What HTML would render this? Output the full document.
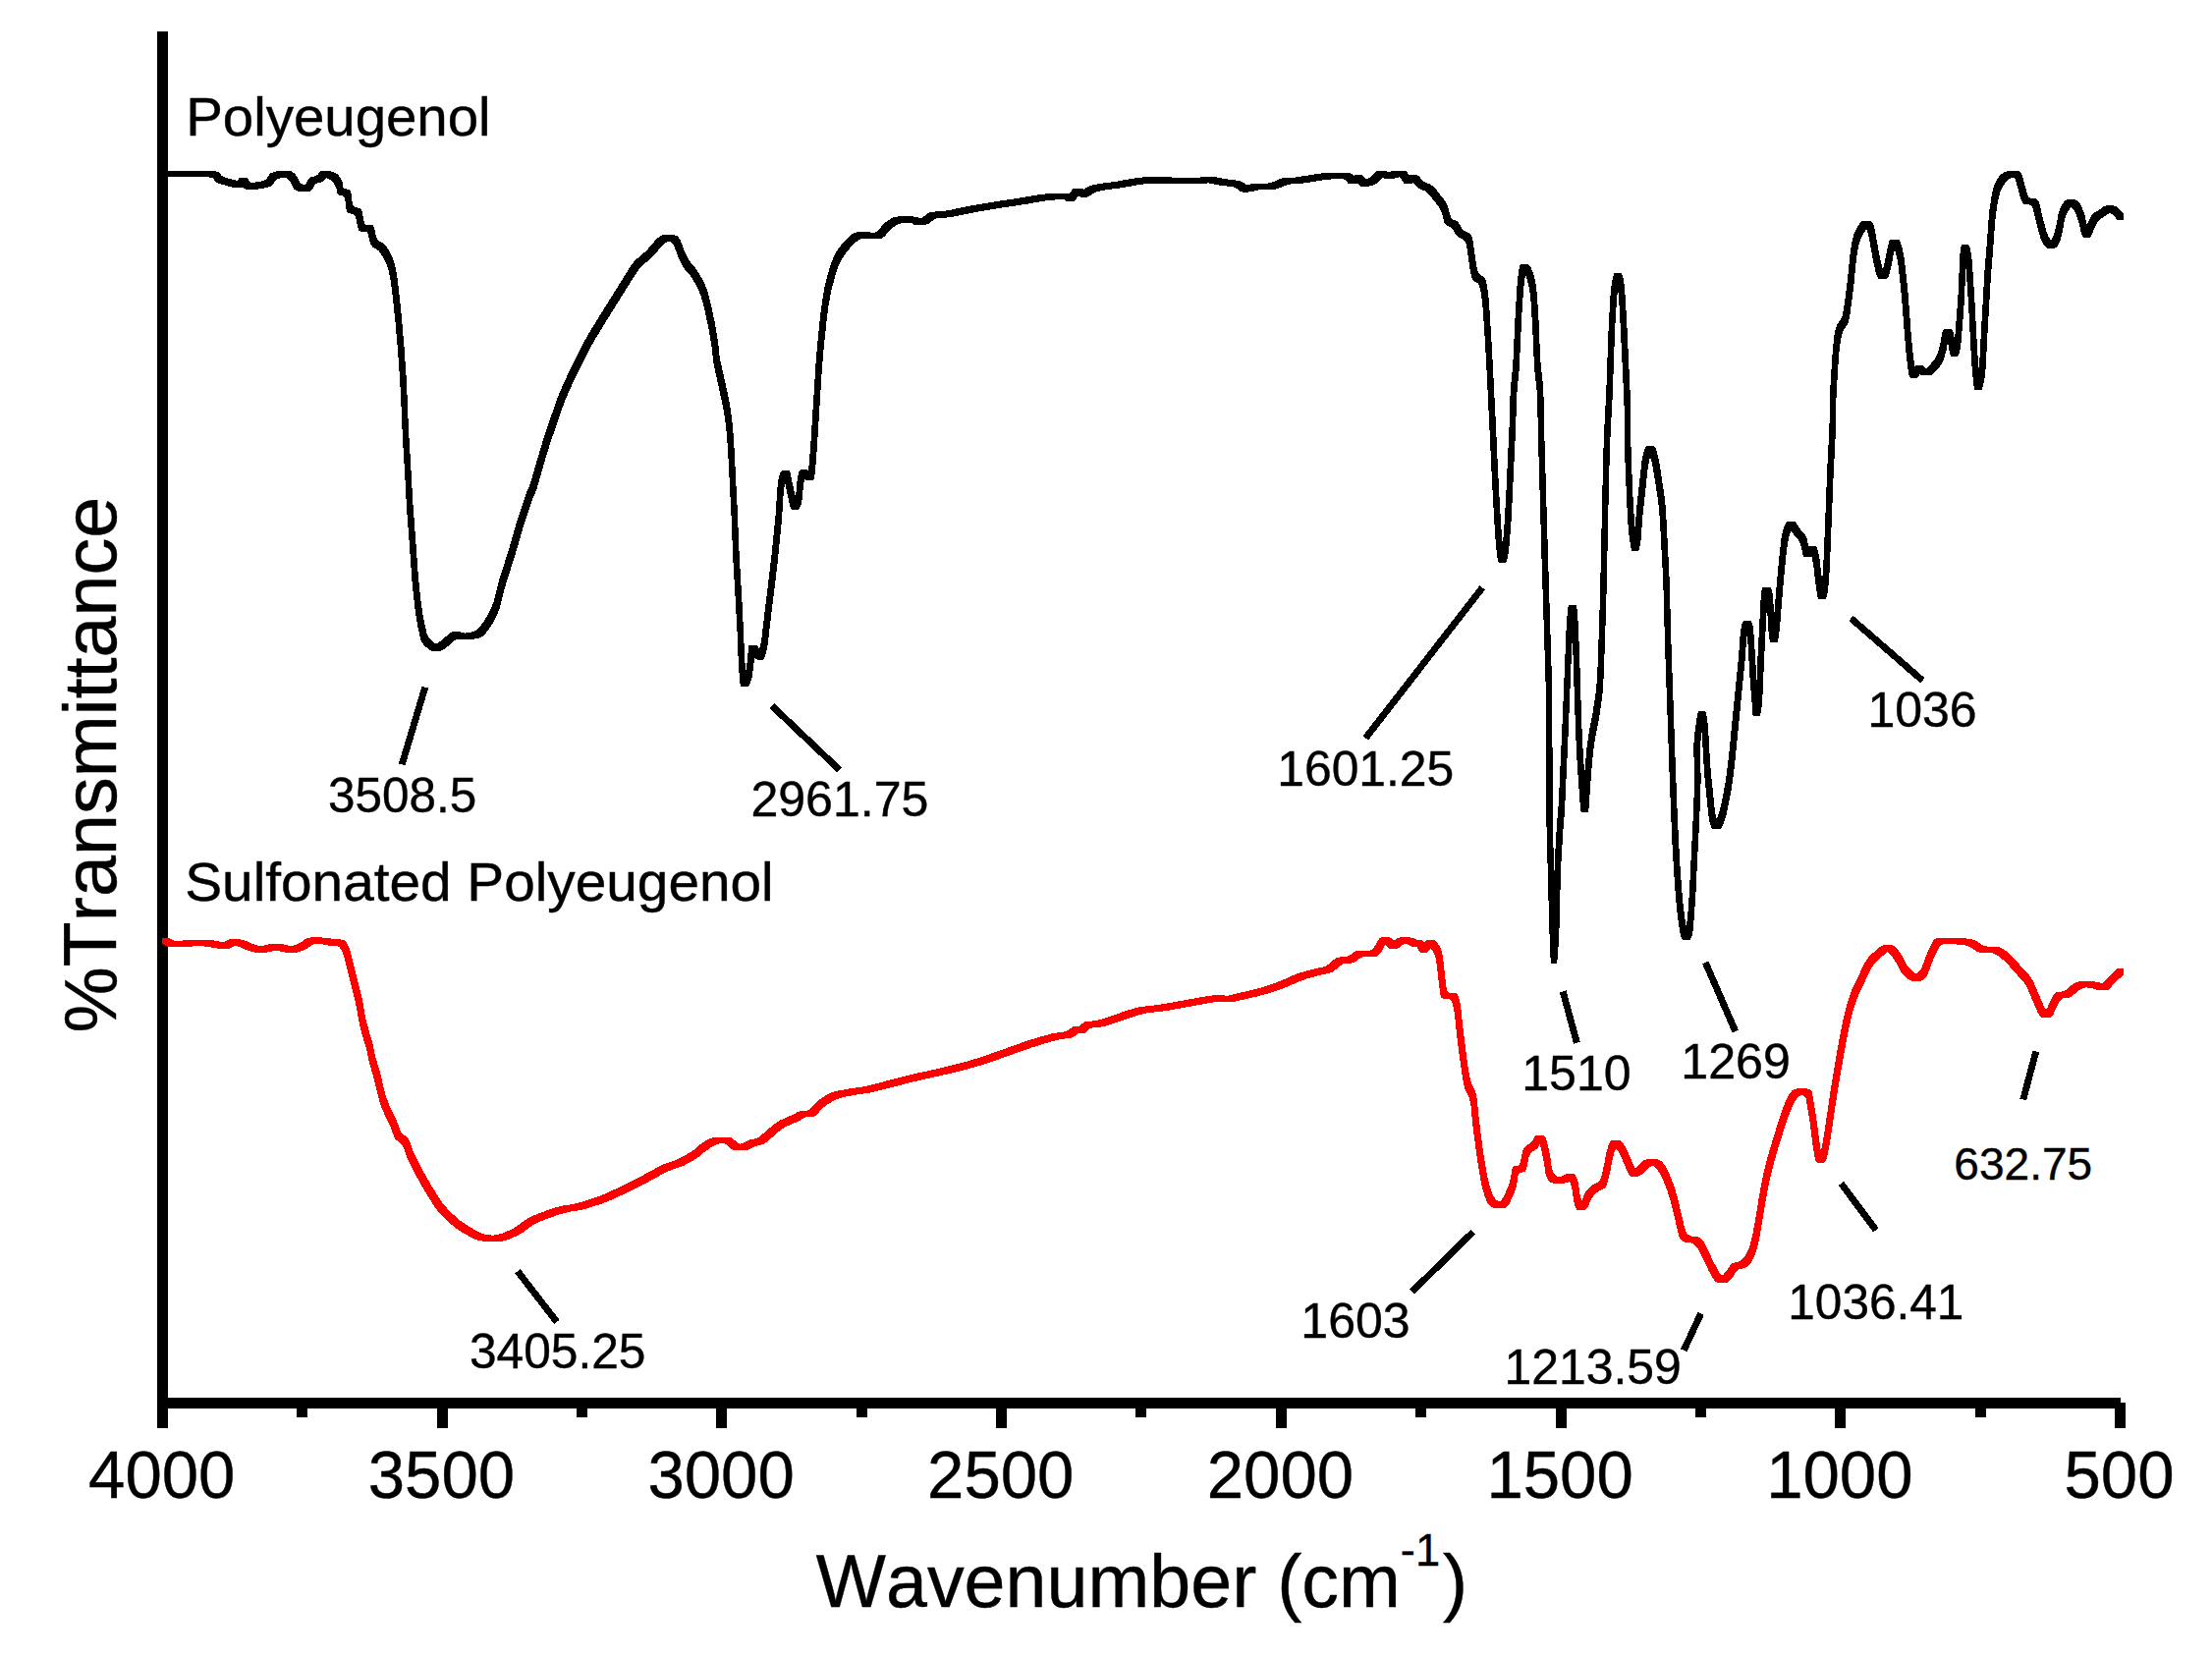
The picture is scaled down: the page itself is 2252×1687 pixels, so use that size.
<!DOCTYPE html>
<html><head><meta charset="utf-8"><title>FTIR spectra</title>
<style>
html,body{margin:0;padding:0;background:#fff;}
body{width:2252px;height:1687px;overflow:hidden;}
svg{display:block;}
text{font-family:"Liberation Sans",Arial,Helvetica,sans-serif;fill:#000;font-kerning:none;stroke:#000;stroke-width:0.4px;}
</style></head><body>
<svg width="2252" height="1687" viewBox="0 0 2252 1687">
<rect width="2252" height="1687" fill="#fff"/>

<path d="M1344.6 176.5L1340.5 177.1L1319.0 180.5L1308.8 181.1L1305.4 181.5L1302.1 182.6L1295.5 185.4L1291.9 186.4L1287.9 186.9L1279.4 186.9L1275.6 187.0L1272.5 187.6L1269.4 188.5L1269.0 188.4L1265.3 185.5L1263.0 184.3L1260.0 183.7L1249.4 182.4L1236.6 180.1L1233.1 179.7L1224.4 179.7L1221.4 180.7L1218.5 181.0L1213.7 181.2L1203.2 181.0L1200.9 180.9L1199.1 180.7L1184.0 180.2L1170.1 180.2L1162.8 180.5L1155.8 181.4L1135.8 184.8L1119.4 187.0L1113.5 188.2L1111.0 188.9L1108.5 189.8L1106.3 190.9L1103.4 192.9L1101.6 191.8L1100.0 191.7L1093.6 191.7L1091.9 192.9L1088.8 196.8L1087.7 196.5L1077.0 196.6L1071.3 196.9L1059.6 197.9L1054.9 198.6L1040.6 201.2L1013.5 205.2L999.7 207.5L986.4 209.8L967.2 213.8L961.9 214.8L957.3 215.3L950.0 215.6L947.0 216.2L944.4 217.3L940.6 220.4L938.9 221.5L936.8 222.3L934.9 221.2L932.9 220.8L929.7 220.5L925.7 220.2L915.3 220.3L911.6 220.8L908.6 221.8L905.9 223.3L900.8 226.9L898.4 229.3L896.2 232.1L893.9 234.7L891.2 236.4L889.4 236.8L887.2 236.6L884.0 236.4L872.9 236.4L870.6 236.7L868.1 237.8L865.2 240.1L862.0 243.2L858.8 246.6L856.0 250.0L853.6 253.2L851.6 256.3L849.7 259.6L847.9 263.7L846.0 268.5L844.2 274.0L841.1 285.4L839.8 290.6L838.8 295.9L837.0 307.1L835.3 320.1L833.0 341.5L831.6 356.4L830.4 372.0L825.7 446.4L823.7 472.7L823.0 478.5L822.9 478.9L821.5 478.2L815.2 478.2L814.2 479.1L813.3 480.8L812.6 483.3L812.0 486.4L811.4 490.6L810.5 501.2L809.8 505.4L806.9 492.5L804.9 482.5L803.9 479.6L802.8 478.8L796.5 478.8L795.4 479.6L794.4 481.4L793.6 483.7L792.9 486.1L792.3 489.0L791.4 497.2L789.6 524.1L787.6 543.9L785.5 564.8L782.4 591.5L777.4 632.6L776.0 644.9L775.4 649.9L774.6 654.4L773.7 658.2L773.1 660.3L770.5 657.3L769.5 656.5L763.2 656.5L762.4 657.1L761.9 659.2L761.1 670.6L759.9 679.3L759.2 683.6L758.4 673.4L758.0 667.5L757.2 646.2L755.7 616.3L752.4 559.4L751.0 524.1L747.9 462.4L746.9 445.7L745.7 431.7L745.0 425.1L744.1 418.5L743.0 411.6L741.7 404.8L737.2 384.2L734.0 370.1L732.8 364.2L732.1 359.7L731.6 352.8L731.0 348.4L729.0 335.4L727.7 328.1L724.7 314.1L723.1 306.9L721.4 300.1L719.4 294.0L717.2 288.6L714.8 283.7L710.1 275.9L708.2 273.2L704.9 269.6L703.4 267.8L700.6 263.5L697.9 258.2L693.0 245.2L691.1 241.9L689.2 240.2L687.1 239.4L685.0 239.1L676.8 239.2L675.1 239.2L673.6 239.5L672.0 240.4L670.0 241.9L667.2 244.7L660.8 252.1L657.8 255.5L654.8 258.1L649.3 262.7L646.9 265.0L644.9 267.1L641.9 271.3L637.3 278.4L627.6 294.1L615.0 314.2L602.3 334.7L598.2 341.5L594.4 348.4L590.7 355.2L587.3 362.0L577.5 382.3L571.4 395.9L568.6 402.7L566.0 409.4L563.6 416.3L554.6 442.9L550.1 457.0L540.1 491.9L538.5 496.1L536.4 500.5L535.1 504.1L530.8 516.7L526.2 531.1L518.4 558.4L508.3 589.9L505.9 599.1L503.4 609.4L502.5 612.6L500.2 618.4L497.8 623.6L495.1 628.5L492.2 633.1L489.0 637.5L487.3 639.5L485.5 641.1L483.6 642.3L481.7 643.1L479.6 643.7L477.4 644.1L473.0 644.6L471.0 644.2L468.6 643.3L461.1 643.2L459.8 643.7L458.5 644.4L455.7 646.6L449.6 651.9L447.5 653.5L444.1 655.5L443.1 655.0L440.4 652.8L437.8 650.3L435.8 648.0L434.7 646.0L434.2 644.2L433.4 639.9L432.0 633.4L430.6 626.2L429.7 620.3L428.6 612.6L427.2 600.0L425.8 585.6L423.8 558.4L420.3 510.8L418.4 476.9L416.0 437.5L414.4 399.5L413.5 382.3L411.6 354.1L409.0 324.0L407.1 305.4L405.8 293.6L404.5 283.3L403.8 278.7L403.0 274.5L402.2 270.6L401.3 267.2L400.2 264.0L398.9 261.0L397.5 257.8L395.8 254.8L394.0 252.0L392.1 249.5L390.1 247.8L385.8 245.2L384.0 243.2L382.8 240.1L381.2 232.4L379.9 229.7L378.1 228.8L372.5 228.8L371.8 228.3L370.6 225.3L368.9 216.6L367.8 213.3L365.9 211.8L361.3 210.9L359.5 209.3L358.6 206.1L357.7 197.5L356.8 194.3L355.3 192.9L353.4 192.5L351.5 192.3L350.0 191.7L349.4 190.3L349.2 186.7L348.6 184.8L346.5 180.8L345.0 178.9L343.2 177.2L341.1 176.0L338.5 174.9L335.9 174.2L333.8 174.0L327.5 174.0L325.8 174.8L324.6 176.1L323.4 177.7L322.1 178.8L320.4 179.4L316.9 180.0L315.2 180.8L313.9 182.4L311.5 186.8L309.9 188.2L309.5 188.2L308.8 188.1L306.5 187.0L304.9 185.2L302.5 180.1L301.1 178.0L299.7 176.6L298.2 175.4L296.5 174.5L294.3 174.0L285.2 174.0L281.9 174.4L278.5 175.2L275.9 176.2L274.1 177.6L271.9 181.3L270.5 182.8L268.4 183.7L266.0 184.5L263.5 185.0L256.3 186.2L254.6 185.1L252.1 181.6L251.0 180.8L244.7 180.8L243.6 181.2L241.7 184.0L233.3 181.8L229.6 180.6L226.5 179.4L224.9 178.1L224.3 176.5L222.8 175.1L218.3 174.0L208.8 173.7L189.4 173.7L167.8 174.0L167.8 180.3L203.0 180.0L212.0 180.3L216.5 181.4L218.0 182.8L218.6 184.4L220.2 185.8L223.3 186.9L237.7 191.0L239.2 191.3L245.5 191.3L246.8 191.2L247.7 190.6L248.3 191.4L250.0 192.6L252.4 192.8L258.7 192.8L261.5 192.7L269.8 191.3L272.3 190.8L274.7 190.0L276.8 189.1L278.2 187.6L280.4 183.9L282.1 182.5L284.8 181.5L288.2 180.7L289.3 180.6L290.2 180.8L291.9 181.7L293.4 182.9L294.9 184.3L296.2 186.4L298.6 191.5L300.2 193.3L302.5 194.4L305.1 194.9L307.6 195.0L313.9 195.0L316.1 194.5L317.8 193.1L320.2 188.7L321.5 187.1L323.2 186.3L326.7 185.7L328.3 185.2L329.7 184.0L330.9 182.4L332.1 181.1L332.2 181.2L334.8 182.3L337.0 183.6L338.7 185.2L340.2 187.1L342.4 191.2L342.9 193.0L343.1 196.6L343.8 198.0L345.2 198.6L347.1 198.8L349.0 199.2L350.6 200.7L351.4 203.8L352.3 212.4L353.2 215.7L355.0 217.2L359.6 218.1L361.5 219.7L362.6 222.9L364.3 231.6L365.5 234.7L367.3 235.7L373.0 235.7L373.7 236.0L374.9 238.7L376.5 246.4L377.8 249.6L379.5 251.5L383.8 254.1L385.9 255.8L387.7 258.3L389.5 261.1L391.2 264.1L392.7 267.2L393.9 270.3L395.0 273.5L395.9 276.9L396.8 280.8L397.5 285.0L398.2 289.6L399.5 299.8L400.8 311.7L402.7 330.3L405.3 360.4L407.2 388.6L408.2 405.8L409.8 443.8L412.2 483.1L414.0 517.1L417.6 564.6L419.5 591.9L420.9 606.2L422.4 618.9L423.4 626.6L424.4 632.5L425.7 639.7L427.2 646.1L427.9 650.5L428.4 652.3L429.6 654.2L431.5 656.6L434.1 659.1L436.8 661.3L439.4 662.6L441.5 662.8L447.8 662.8L449.8 662.1L453.8 659.8L455.9 658.2L461.9 652.9L465.1 650.6L466.5 650.9L468.9 650.9L478.0 650.9L481.0 650.8L483.6 650.4L485.9 650.0L488.0 649.4L489.9 648.6L491.8 647.4L493.6 645.8L495.3 643.8L498.5 639.4L501.4 634.8L504.0 629.9L506.5 624.7L508.8 618.9L509.7 615.7L512.1 605.4L514.6 596.2L524.6 564.6L532.5 537.4L537.1 523.0L541.4 510.3L542.7 506.8L544.8 502.4L546.4 498.1L556.4 463.2L560.9 449.2L572.3 415.7L574.9 408.9L577.7 402.2L583.8 388.6L590.3 375.1L597.0 361.5L600.6 354.6L604.5 347.8L616.9 327.4L633.9 300.3L643.6 284.7L649.7 275.3L651.2 273.4L653.1 271.2L655.6 269.0L661.1 264.4L664.0 261.8L667.1 258.4L673.5 251.0L676.2 248.2L678.3 246.7L679.9 245.8L680.8 245.7L682.9 246.5L684.9 248.2L686.7 251.5L691.6 264.5L694.4 269.8L697.1 274.0L698.6 275.9L701.9 279.5L703.9 282.1L708.5 290.0L710.9 294.9L713.1 300.2L715.1 306.4L716.8 313.2L718.4 320.3L721.4 334.4L722.7 341.7L724.8 354.6L725.3 359.1L725.8 366.0L726.5 370.4L727.7 376.4L730.9 390.5L735.4 411.1L736.7 417.9L737.9 424.8L738.7 431.4L739.4 438.0L740.6 451.9L741.6 468.7L744.8 530.4L746.1 565.6L749.4 622.6L751.0 652.5L751.7 673.8L752.1 679.6L753.0 691.2L753.5 695.8L754.2 698.6L755.2 699.3L761.5 699.3L762.6 698.2L763.7 695.9L764.6 693.2L765.5 689.9L766.2 685.6L767.4 676.9L767.9 668.6L769.5 671.3L770.6 671.5L776.9 671.5L777.9 670.2L779.0 667.8L780.0 664.5L780.9 660.6L781.7 656.2L782.3 651.2L783.6 638.9L788.7 597.8L791.8 571.0L793.9 550.2L795.9 530.4L797.6 503.5L798.6 495.3L799.3 492.0L800.6 498.8L803.7 512.5L804.7 516.3L805.8 518.4L806.8 518.6L813.1 518.6L814.2 517.2L815.3 514.7L816.1 511.6L816.8 507.5L817.7 496.9L818.2 492.6L819.3 488.0L820.6 489.1L826.9 489.1L828.4 488.5L829.3 484.8L830.0 478.9L831.6 459.1L836.7 378.3L837.9 362.7L839.3 347.8L841.6 326.4L843.2 313.3L845.1 302.2L846.1 296.9L847.4 291.6L850.5 280.3L852.3 274.8L854.1 269.9L856.0 265.9L857.9 262.6L859.9 259.5L862.2 256.3L865.1 252.9L868.3 249.5L871.5 246.4L874.4 244.2L876.9 243.0L878.5 242.8L880.9 242.9L884.5 243.3L888.1 243.4L894.4 243.4L897.5 242.8L900.2 241.0L902.5 238.4L904.7 235.6L907.0 233.2L912.2 229.6L914.9 228.1L917.9 227.1L921.1 226.6L926.6 227.1L928.6 227.5L930.8 228.8L932.1 229.2L939.9 229.2L941.6 229.0L943.3 228.5L945.1 227.8L946.9 226.7L950.7 223.6L953.2 222.5L956.3 221.9L963.6 221.6L968.1 221.1L973.5 220.1L992.6 216.2L999.2 215.0L1019.8 211.6L1047.0 207.5L1061.2 204.9L1066.0 204.2L1071.6 203.7L1082.1 203.0L1083.8 203.3L1085.8 204.8L1093.2 204.8L1094.8 203.4L1097.8 199.7L1098.7 200.3L1100.4 200.7L1106.8 200.7L1108.6 200.0L1112.6 197.2L1114.9 196.1L1117.3 195.2L1119.8 194.6L1125.8 193.3L1142.1 191.2L1162.1 187.7L1169.2 186.8L1177.7 186.5L1192.8 187.0L1194.6 187.2L1196.8 187.3L1220.0 187.5L1224.9 187.3L1227.7 187.0L1229.8 186.3L1243.0 188.8L1253.7 190.0L1256.6 190.7L1259.0 191.8L1262.7 194.7L1264.8 195.5L1271.1 195.5L1273.5 195.4L1278.8 193.9L1282.0 193.3L1294.2 193.2L1298.2 192.8L1301.8 191.7L1308.4 188.9L1311.8 187.8L1315.1 187.4L1325.4 186.8L1346.8 183.4L1350.9 182.8L1355.2 182.5L1360.1 182.2L1364.1 182.1L1367.9 182.5L1370.2 183.5L1371.4 185.1L1372.2 186.5L1373.3 187.3L1379.7 187.3L1381.3 187.0L1382.2 186.5L1384.0 188.7L1385.6 189.6L1394.1 189.5L1396.6 188.9L1399.2 188.0L1401.5 186.8L1403.3 185.3L1406.4 181.7L1407.4 181.1L1409.3 181.6L1411.4 182.0L1417.8 182.0L1419.3 181.8L1421.7 180.9L1424.3 180.4L1424.9 180.6L1426.5 182.0L1429.1 186.2L1430.4 187.3L1436.8 187.3L1438.0 187.0L1438.7 186.3L1441.9 189.6L1443.9 191.5L1446.0 192.6L1450.1 194.1L1452.1 195.5L1454.2 197.4L1456.3 199.9L1463.9 209.5L1465.6 211.9L1467.0 214.6L1468.2 217.9L1470.0 225.2L1471.1 228.1L1472.7 229.6L1474.5 230.4L1476.3 231.1L1477.9 232.2L1479.3 234.0L1481.8 238.4L1483.3 240.3L1485.3 241.7L1489.8 244.0L1491.5 245.8L1492.6 248.2L1493.2 251.0L1494.9 262.5L1496.3 272.8L1496.9 276.9L1498.1 281.9L1498.7 283.5L1499.6 285.1L1501.0 286.4L1502.8 287.2L1504.5 288.3L1505.9 290.5L1507.0 294.1L1507.8 298.5L1508.5 303.7L1509.8 316.2L1511.9 347.4L1513.7 380.0L1519.1 491.7L1521.8 539.5L1522.8 553.3L1523.8 562.6L1524.7 569.0L1525.1 571.1L1525.6 572.4L1526.1 572.9L1532.5 572.9L1533.1 572.4L1533.8 571.1L1534.5 569.0L1535.2 566.1L1535.7 562.6L1536.8 553.3L1537.9 539.5L1538.5 530.8L1540.0 502.0L1543.4 430.3L1543.8 409.7L1544.2 403.1L1544.7 396.4L1546.1 382.7L1546.8 374.8L1548.7 334.0L1549.7 315.0L1550.8 298.6L1551.8 287.2L1552.9 280.0L1553.9 282.4L1555.1 286.0L1556.2 290.3L1557.2 295.5L1558.0 301.4L1558.7 308.5L1560.2 334.0L1561.6 365.2L1562.1 374.8L1562.8 382.4L1564.4 395.5L1564.9 403.1L1565.3 411.9L1565.8 443.8L1566.3 457.9L1569.6 571.5L1573.6 696.4L1573.9 715.4L1574.1 742.4L1574.3 808.0L1574.4 834.6L1574.7 852.8L1575.8 888.9L1577.2 943.2L1578.0 962.8L1578.8 981.4L1585.1 981.4L1585.2 981.2L1586.5 964.5L1587.6 943.2L1588.6 902.0L1589.0 888.9L1589.5 877.4L1591.2 848.2L1592.6 831.0L1593.5 815.2L1597.1 737.2L1599.2 682.9L1600.8 649.1L1601.6 669.4L1603.0 715.4L1604.9 764.4L1606.0 782.0L1608.7 819.5L1609.2 824.1L1609.7 826.4L1610.2 826.8L1616.5 826.8L1617.0 825.5L1617.5 822.8L1617.9 818.0L1620.4 782.9L1621.6 769.8L1622.2 764.5L1624.2 750.8L1627.3 734.9L1628.4 729.0L1630.2 716.7L1631.1 709.8L1631.9 701.9L1632.4 693.2L1632.9 683.8L1634.7 631.9L1635.7 598.6L1638.1 487.2L1639.2 452.0L1639.8 438.0L1641.8 401.9L1643.7 347.5L1644.7 325.0L1645.9 306.8L1646.5 300.2L1647.2 294.8L1647.6 298.6L1648.2 305.8L1649.3 324.3L1653.3 405.6L1653.6 415.4L1653.8 422.9L1653.7 441.8L1653.8 452.0L1654.8 479.3L1656.5 516.9L1657.5 534.4L1658.1 541.6L1658.9 548.2L1659.8 554.0L1660.6 558.4L1661.4 560.6L1667.8 560.6L1668.5 560.4L1669.2 558.1L1669.8 554.4L1670.5 549.9L1671.0 544.1L1672.6 522.6L1675.4 498.2L1677.6 476.8L1678.6 471.0L1679.7 466.7L1680.1 465.3L1681.8 471.0L1682.8 476.2L1684.9 489.0L1687.6 507.0L1688.4 513.1L1689.1 519.9L1689.8 527.8L1693.0 587.6L1693.8 609.5L1694.9 653.3L1699.4 782.6L1701.2 829.3L1702.6 861.8L1704.4 891.0L1705.3 904.3L1706.2 916.1L1707.2 926.4L1708.3 935.3L1709.3 942.7L1710.2 948.6L1711.1 952.8L1711.9 955.3L1712.7 956.5L1713.5 956.9L1719.9 956.9L1720.7 956.5L1721.6 955.3L1722.5 952.8L1723.4 948.6L1724.1 942.4L1725.4 925.4L1726.6 906.5L1728.1 875.4L1730.2 834.6L1731.4 803.3L1731.6 793.9L1731.4 779.3L1730.8 764.3L1731.2 757.5L1731.9 750.9L1732.6 745.7L1733.1 753.5L1734.8 783.4L1735.4 791.0L1737.4 810.5L1738.7 823.9L1739.4 830.0L1740.1 834.9L1741.0 838.8L1742.0 841.8L1743.1 843.8L1744.2 844.4L1750.6 844.4L1751.8 843.8L1753.2 841.8L1754.6 838.8L1756.0 834.9L1757.4 830.0L1758.8 823.9L1760.2 817.2L1762.6 804.3L1763.5 798.0L1765.5 783.4L1766.5 774.1L1775.7 681.2L1776.4 674.8L1777.9 653.1L1778.7 647.0L1779.5 655.9L1781.4 688.4L1784.5 727.9L1784.9 729.0L1791.2 729.0L1791.8 728.2L1792.6 725.6L1793.3 721.4L1794.0 715.4L1794.5 707.2L1795.9 674.8L1798.9 616.4L1800.4 642.1L1801.5 650.9L1802.1 653.4L1802.6 654.4L1809.0 654.4L1809.6 653.5L1810.3 651.1L1811.0 647.2L1811.7 642.1L1812.3 635.4L1814.4 609.5L1815.7 594.1L1817.7 572.9L1819.0 560.5L1819.8 555.2L1821.3 547.2L1822.1 544.1L1823.1 541.6L1823.7 540.4L1827.0 545.8L1831.3 550.3L1832.5 552.5L1833.6 556.2L1835.5 565.0L1836.5 567.4L1842.9 567.4L1844.2 567.2L1844.4 566.8L1845.5 571.5L1846.3 576.2L1847.6 587.9L1849.6 603.1L1850.2 607.1L1850.9 609.5L1851.8 610.2L1858.1 610.2L1858.9 609.4L1859.8 607.4L1860.6 604.1L1861.2 599.9L1861.7 594.4L1862.8 579.6L1863.7 558.1L1866.6 484.6L1868.7 443.8L1868.9 434.4L1869.1 416.5L1869.7 400.0L1871.5 371.2L1872.5 358.5L1873.7 348.5L1874.3 344.6L1875.1 341.2L1876.1 338.0L1877.4 335.4L1880.5 331.1L1881.9 328.0L1882.8 323.8L1883.7 318.7L1886.3 298.4L1887.6 288.0L1889.4 268.9L1890.8 258.0L1891.6 253.4L1892.5 249.3L1893.6 245.6L1894.9 242.1L1896.4 239.1L1898.0 236.4L1900.1 233.3L1901.2 235.7L1902.2 239.1L1907.2 266.5L1909.8 278.0L1910.8 281.0L1911.8 283.0L1912.9 283.9L1920.3 283.9L1921.5 283.2L1922.6 281.8L1923.4 279.8L1924.2 276.9L1926.2 267.4L1927.4 260.9L1929.0 254.4L1929.9 257.5L1930.9 261.4L1931.8 265.5L1932.5 270.1L1933.7 280.4L1935.3 295.4L1936.2 305.5L1939.3 345.1L1940.7 361.1L1941.8 370.5L1942.9 378.8L1943.5 382.1L1944.2 384.2L1945.1 384.8L1951.4 384.8L1952.4 384.1L1954.6 381.2L1955.4 381.8L1956.7 382.2L1957.9 382.4L1964.2 382.4L1965.4 382.3L1966.8 381.8L1968.3 380.7L1969.9 379.1L1973.1 375.5L1975.7 372.2L1976.9 370.3L1978.1 368.0L1979.1 365.3L1980.9 358.8L1981.8 355.5L1983.0 348.4L1984.2 355.5L1985.5 360.7L1986.1 362.5L1986.8 363.0L1993.1 363.0L1993.8 362.1L1994.6 359.9L1995.4 356.8L1996.1 353.0L1996.6 348.4L1997.1 342.9L1999.1 317.1L2000.1 303.0L2000.8 281.7L2001.3 271.1L2002.1 280.8L2003.9 307.6L2007.0 366.3L2007.9 378.0L2009.1 389.5L2009.7 394.1L2010.4 396.8L2016.8 396.8L2017.6 396.6L2018.5 394.5L2019.3 391.3L2020.6 385.0L2021.4 377.8L2022.1 367.2L2023.1 345.5L2026.8 283.0L2029.2 253.1L2031.0 228.1L2031.8 220.7L2033.5 208.1L2034.5 202.8L2035.6 198.2L2036.8 194.4L2038.1 191.5L2039.5 189.0L2041.0 186.8L2042.5 184.9L2044.2 183.3L2046.0 182.0L2048.0 181.2L2049.4 180.7L2050.4 181.2L2051.7 182.7L2052.5 184.9L2057.6 203.6L2059.2 206.8L2061.2 208.2L2066.0 208.4L2067.9 209.3L2069.2 211.5L2070.1 214.2L2075.4 235.7L2077.2 241.8L2078.1 244.5L2079.2 246.8L2080.3 248.9L2081.6 250.6L2082.9 251.9L2084.2 252.6L2091.7 252.6L2093.0 252.0L2094.3 250.9L2095.5 249.3L2096.5 247.2L2097.5 244.6L2099.2 238.2L2100.1 234.3L2101.6 225.5L2102.5 221.8L2103.4 219.0L2104.5 216.7L2105.6 214.8L2106.8 213.2L2108.6 210.9L2110.2 212.5L2111.7 214.3L2112.9 216.7L2114.1 219.5L2116.2 225.7L2117.0 228.9L2118.4 235.7L2119.2 238.2L2119.9 239.9L2120.6 241.0L2121.3 241.5L2127.6 241.5L2128.5 241.2L2129.4 239.6L2131.4 234.3L2133.5 229.8L2135.5 226.0L2136.8 224.3L2138.1 223.1L2143.0 220.2L2148.1 216.6L2150.3 218.2L2151.8 219.4L2155.3 223.7L2161.7 223.7L2161.7 217.3L2158.1 213.1L2156.7 211.8L2153.7 210.0L2152.1 209.4L2144.2 209.3L2142.3 210.0L2140.4 211.2L2136.7 213.8L2131.8 216.8L2130.4 218.0L2129.2 219.7L2128.2 221.5L2126.2 225.5L2124.7 229.2L2123.3 222.6L2122.5 219.3L2120.4 213.2L2119.2 210.4L2118.0 208.0L2116.5 206.2L2114.9 204.6L2113.3 203.5L2111.8 203.0L2105.4 203.0L2104.1 203.3L2102.8 204.1L2101.6 205.3L2100.4 206.8L2099.3 208.5L2098.2 210.4L2097.1 212.7L2096.2 215.5L2095.3 219.2L2093.8 228.0L2092.9 231.8L2092.1 235.2L2091.2 238.3L2090.2 240.9L2089.2 243.0L2088.1 244.5L2086.6 242.6L2085.5 240.5L2084.4 238.2L2083.5 235.5L2080.8 225.8L2076.4 207.9L2075.5 205.2L2074.2 203.0L2072.3 202.1L2067.5 201.9L2065.5 200.5L2063.9 197.3L2058.8 178.6L2058.0 176.4L2056.8 174.8L2054.9 174.0L2052.6 173.9L2046.3 173.9L2043.8 174.2L2041.6 174.8L2039.7 175.7L2037.9 177.0L2036.2 178.6L2034.6 180.5L2033.2 182.7L2031.8 185.2L2030.5 188.1L2029.2 191.8L2028.2 196.5L2027.2 201.8L2025.4 214.3L2024.7 221.8L2022.9 246.8L2020.4 276.8L2016.8 339.2L2015.4 366.8L2014.7 376.0L2013.3 360.0L2012.2 339.6L2010.6 309.1L2008.0 269.1L2007.6 264.2L2006.4 255.9L2005.7 252.7L2005.1 250.5L2004.4 249.4L2003.7 249.2L1997.4 249.2L1996.8 250.0L1996.2 251.8L1995.8 254.7L1995.4 258.9L1994.8 269.2L1994.1 289.6L1993.3 303.7L1990.8 336.6L1989.9 345.7L1988.8 339.1L1988.1 336.8L1987.2 335.6L1986.1 335.2L1979.8 335.2L1978.8 335.6L1977.9 336.8L1977.3 339.0L1975.4 349.2L1973.8 355.8L1972.8 359.0L1971.8 361.8L1970.6 364.0L1969.4 365.9L1968.1 367.6L1963.6 372.8L1962.0 374.4L1961.1 375.0L1960.4 374.6L1957.8 372.2L1956.8 371.8L1950.4 371.8L1949.7 372.2L1949.3 372.9L1948.1 364.2L1947.0 354.8L1945.6 338.8L1942.6 299.2L1941.6 289.1L1939.4 268.9L1938.8 263.8L1938.1 259.2L1937.2 255.1L1936.2 251.2L1935.2 248.0L1934.2 245.5L1933.3 244.1L1932.3 243.6L1925.1 243.7L1924.2 244.2L1923.5 245.4L1922.9 247.1L1921.8 251.8L1917.9 270.6L1916.9 274.1L1916.1 271.7L1915.2 268.0L1913.5 260.2L1908.5 232.8L1907.6 229.3L1906.5 227.1L1905.3 225.8L1904.1 225.1L1903.1 224.8L1895.8 224.9L1895.0 225.5L1894.1 226.5L1891.7 230.1L1890.1 232.8L1888.6 235.8L1887.2 239.2L1886.2 243.0L1885.3 247.1L1884.5 251.7L1883.1 262.6L1881.2 281.8L1880.0 292.1L1877.4 312.4L1876.5 317.5L1875.5 321.8L1874.2 324.8L1871.1 329.1L1869.8 331.8L1868.8 334.9L1868.0 338.3L1867.4 342.2L1866.2 352.2L1865.2 364.9L1863.4 393.7L1862.8 410.2L1862.6 428.1L1862.3 437.6L1860.2 478.4L1856.9 563.4L1855.9 581.4L1855.1 591.2L1852.6 569.9L1851.9 565.2L1851.1 561.7L1850.3 558.8L1849.4 556.8L1848.4 555.8L1842.0 555.8L1841.2 556.2L1839.9 549.9L1838.9 546.2L1837.6 544.0L1833.4 539.5L1828.8 532.5L1827.5 531.2L1819.9 531.2L1818.8 531.9L1817.7 533.4L1816.8 535.4L1815.8 537.8L1815.0 540.9L1813.4 549.0L1812.1 560.1L1810.1 580.4L1808.0 603.2L1806.2 627.2L1805.4 612.3L1804.9 606.0L1804.2 602.1L1803.6 599.7L1802.8 598.4L1802.2 597.9L1795.1 597.8L1794.4 598.5L1793.7 600.2L1793.1 603.2L1792.7 607.7L1789.5 668.5L1788.5 692.4L1787.8 682.1L1785.8 649.6L1785.1 641.2L1784.3 636.2L1783.4 633.4L1782.6 632.1L1781.8 631.8L1775.4 631.8L1774.6 632.4L1773.8 634.2L1773.0 637.2L1772.2 641.2L1771.6 646.8L1770.0 668.5L1769.4 674.9L1760.2 767.8L1758.2 784.9L1756.3 798.0L1753.9 810.9L1752.5 817.6L1751.1 823.7L1749.6 828.6L1748.3 832.5L1747.7 833.7L1747.3 832.5L1746.5 828.6L1745.7 823.7L1741.7 784.7L1741.1 777.1L1739.4 747.2L1738.9 739.1L1738.2 733.1L1737.5 728.6L1736.8 725.6L1736.2 724.1L1729.8 724.1L1729.2 724.5L1728.5 726.4L1727.1 733.6L1725.6 744.6L1724.9 751.2L1724.4 758.1L1724.5 771.1L1725.1 785.6L1725.2 790.4L1725.1 797.0L1724.3 817.9L1723.4 838.5L1719.8 909.9L1718.5 928.1L1717.8 936.1L1716.8 943.6L1715.6 936.4L1714.6 929.0L1713.5 920.1L1712.6 909.9L1710.7 884.7L1709.0 855.5L1707.5 823.0L1705.7 776.3L1701.2 647.0L1699.8 592.4L1698.7 570.1L1696.6 530.1L1695.5 513.6L1694.7 506.8L1693.9 500.7L1690.2 476.1L1689.1 469.9L1688.1 464.8L1686.9 460.6L1685.8 457.1L1684.6 454.7L1683.5 453.9L1677.1 453.9L1675.9 454.7L1674.6 456.9L1673.4 460.4L1672.2 464.8L1671.3 470.5L1669.0 492.0L1666.2 516.4L1664.7 537.6L1663.8 528.1L1663.3 519.9L1662.2 500.1L1661.1 473.0L1660.2 445.8L1660.0 409.2L1659.6 399.3L1656.2 327.8L1655.1 308.3L1654.0 292.4L1653.3 287.1L1652.6 283.2L1651.9 280.6L1651.2 278.9L1650.6 278.0L1644.3 278.0L1643.6 278.2L1642.9 279.3L1642.2 281.6L1641.6 284.6L1640.9 288.7L1640.2 293.9L1639.5 300.6L1639.0 308.9L1637.3 341.2L1635.4 395.7L1633.5 431.7L1632.8 445.8L1631.8 481.0L1629.3 592.4L1628.4 625.6L1626.6 677.5L1626.1 686.9L1625.5 695.6L1624.8 703.5L1623.9 710.4L1622.0 722.8L1621.0 728.6L1617.9 744.5L1616.5 753.6L1615.2 763.5L1614.7 769.7L1613.2 788.6L1611.8 767.5L1610.7 746.9L1609.4 709.1L1608.0 663.1L1606.9 640.1L1606.4 629.8L1605.8 622.2L1605.1 617.8L1604.4 615.8L1603.7 615.7L1597.4 615.7L1596.8 616.9L1596.2 619.4L1595.8 623.5L1594.8 635.9L1594.4 644.2L1590.8 731.0L1587.2 808.9L1586.8 817.9L1584.8 842.0L1583.7 860.4L1582.6 882.6L1582.4 891.8L1581.0 846.5L1580.8 828.4L1580.4 736.1L1580.2 709.1L1579.9 690.1L1576.0 565.2L1572.6 451.6L1572.2 437.6L1571.6 405.6L1571.2 396.9L1570.7 389.2L1569.1 376.1L1568.5 368.5L1567.9 359.0L1566.6 327.8L1565.0 302.2L1564.4 295.2L1563.5 289.2L1562.5 284.0L1561.4 279.7L1560.2 276.2L1559.0 273.3L1557.8 271.3L1556.5 270.0L1555.5 269.4L1554.7 269.2L1548.4 269.2L1547.7 269.7L1547.2 271.0L1546.6 273.4L1546.1 276.7L1545.5 280.9L1544.4 292.4L1543.4 308.7L1542.3 327.8L1540.4 368.5L1539.8 376.4L1538.4 390.1L1537.8 396.9L1537.5 403.4L1537.0 424.1L1533.2 505.5L1531.6 533.2L1530.5 547.0L1529.8 553.6L1529.1 547.0L1528.1 533.2L1526.5 505.5L1524.9 475.1L1522.5 424.1L1519.1 357.6L1516.6 317.4L1515.5 303.2L1514.1 292.2L1513.3 287.8L1512.2 284.2L1510.8 282.0L1509.1 280.9L1507.3 280.1L1506.0 278.9L1505.0 277.2L1504.4 275.6L1503.2 270.7L1502.6 266.5L1501.2 256.2L1499.5 244.7L1498.9 241.9L1497.9 239.4L1496.1 237.7L1491.6 235.4L1489.7 234.0L1488.1 232.1L1485.6 227.7L1484.2 225.8L1482.6 224.8L1480.8 224.1L1479.0 223.3L1477.5 221.8L1476.3 218.9L1474.5 211.6L1473.4 208.2L1471.9 205.6L1470.2 203.2L1462.6 193.6L1460.5 191.1L1458.5 189.2L1456.4 187.8L1452.3 186.3L1450.2 185.2L1448.2 183.3L1444.0 178.9L1442.2 177.8L1435.8 177.8L1434.3 178.1L1432.8 175.7L1431.2 174.2L1429.3 173.7L1420.9 173.7L1416.8 174.2L1415.4 174.6L1414.4 175.0L1410.5 174.1L1404.2 174.1L1401.9 174.2L1400.1 175.4L1397.0 179.0L1395.1 180.5L1392.9 181.7L1390.6 182.5L1390.3 182.4L1387.8 179.2L1386.5 178.3L1380.1 178.3L1378.5 178.7L1377.9 179.0L1376.5 177.2L1374.2 176.2L1370.4 175.8L1359.1 175.7L1348.9 176.2Z" fill="#000" fill-rule="evenodd" shape-rendering="crispEdges"/>
<g fill="#000" shape-rendering="crispEdges">
<rect x="160.0" y="32" width="11.0" height="1422"/>
<rect x="160.0" y="1423.0" width="1998.6" height="11.0"/>
<rect x="302" y="1428" width="11" height="15"/>
<rect x="445" y="1428" width="11" height="26"/>
<rect x="587" y="1428" width="11" height="15"/>
<rect x="729" y="1428" width="11" height="26"/>
<rect x="872" y="1428" width="11" height="15"/>
<rect x="1014" y="1428" width="11" height="26"/>
<rect x="1156" y="1428" width="11" height="15"/>
<rect x="1299" y="1428" width="11" height="26"/>
<rect x="1441" y="1428" width="11" height="15"/>
<rect x="1584" y="1428" width="11" height="26"/>
<rect x="1726" y="1428" width="11" height="15"/>
<rect x="1868" y="1428" width="11" height="26"/>
<rect x="2011" y="1428" width="11" height="15"/>
<rect x="2153" y="1428" width="11" height="26"/>
</g>
<path d="M184.0 964.5L202.4 963.0L203.8 963.0L212.0 963.9L222.6 965.9L225.7 966.0L232.0 966.0L234.3 965.5L238.1 963.2L239.1 962.9L243.2 963.9L245.6 964.7L250.3 967.0L252.8 967.9L255.3 968.7L257.9 969.3L260.7 969.8L263.7 969.9L269.9 969.9L273.1 969.4L280.4 967.5L281.3 967.6L289.8 969.5L293.6 969.9L299.8 969.9L303.0 969.5L305.7 968.8L310.6 966.6L313.1 965.3L317.6 962.2L320.1 961.1L322.2 960.9L328.5 961.4L334.2 962.5L340.1 962.7L341.8 962.9L344.0 963.4L344.9 963.9L345.9 964.9L346.9 966.3L347.9 968.2L349.0 970.5L350.0 973.0L350.8 976.1L353.4 986.6L359.3 1010.3L361.8 1020.5L363.2 1027.4L365.6 1041.0L367.1 1047.8L369.0 1054.6L373.1 1068.2L375.8 1081.7L379.9 1095.2L381.6 1102.1L385.7 1119.1L386.7 1122.5L389.2 1129.4L392.1 1136.1L397.5 1146.9L400.9 1156.4L402.2 1159.2L404.0 1161.1L407.9 1163.9L409.7 1165.9L410.9 1168.4L412.9 1174.7L414.4 1178.5L418.7 1187.5L426.5 1202.3L432.0 1211.9L440.0 1224.9L442.7 1228.9L445.7 1232.8L448.8 1236.4L452.2 1240.0L455.7 1243.3L459.2 1246.4L462.5 1249.1L465.9 1251.5L469.3 1253.8L476.2 1257.9L479.5 1259.8L482.9 1261.4L486.4 1262.7L489.8 1263.4L493.3 1263.8L496.7 1264.0L506.2 1264.0L509.1 1263.8L511.6 1263.5L514.2 1262.9L517.0 1262.1L520.3 1260.9L523.7 1259.4L527.2 1257.7L530.6 1255.9L534.0 1253.6L540.7 1248.6L544.2 1246.4L548.1 1244.4L556.4 1241.1L568.7 1236.7L576.9 1234.4L580.8 1233.6L588.7 1232.4L593.1 1231.5L598.2 1230.1L609.3 1226.6L614.9 1224.7L620.3 1222.5L631.1 1217.7L647.4 1209.8L658.4 1204.2L675.0 1195.1L680.0 1192.6L684.5 1190.7L692.4 1188.2L696.4 1186.6L700.7 1184.3L705.3 1181.7L712.6 1177.1L714.3 1175.8L715.3 1174.3L716.8 1173.2L723.0 1168.8L726.7 1166.6L730.4 1165.0L733.9 1164.1L735.1 1164.0L737.6 1164.5L739.9 1165.6L743.7 1169.2L745.8 1170.5L748.1 1170.9L750.6 1171.0L756.9 1171.0L759.3 1170.8L761.5 1170.5L763.4 1169.8L766.5 1168.0L768.4 1167.2L775.4 1165.5L777.9 1164.5L780.2 1162.9L792.6 1152.4L795.3 1150.2L798.2 1148.2L801.5 1146.4L811.8 1142.0L819.1 1138.1L821.2 1137.2L827.3 1137.2L829.4 1136.5L831.6 1134.7L836.3 1129.4L838.9 1127.0L842.1 1124.7L845.5 1122.5L849.1 1120.5L852.5 1118.9L855.8 1117.7L858.8 1116.9L862.2 1116.3L871.0 1114.7L882.2 1113.1L887.9 1112.1L893.2 1110.8L927.7 1101.9L940.8 1098.8L954.7 1095.8L967.0 1093.0L977.7 1090.3L992.1 1086.5L1001.9 1083.6L1008.2 1081.5L1049.8 1066.7L1062.3 1062.7L1068.0 1061.1L1078.0 1058.6L1082.0 1057.8L1088.7 1057.0L1091.6 1056.4L1094.1 1055.1L1097.6 1052.2L1103.8 1052.2L1105.1 1051.3L1108.3 1048.1L1110.6 1046.9L1113.3 1046.2L1120.2 1045.6L1124.2 1045.0L1128.5 1043.7L1153.8 1035.1L1159.4 1033.4L1164.9 1032.0L1170.1 1031.0L1180.7 1029.9L1186.6 1029.2L1199.8 1026.9L1235.2 1020.4L1240.2 1019.8L1243.9 1020.3L1253.2 1020.4L1256.9 1019.8L1278.8 1014.7L1288.5 1012.2L1298.0 1009.3L1307.5 1005.9L1312.2 1004.0L1321.7 999.7L1326.5 997.9L1331.4 996.2L1345.5 992.4L1353.8 990.7L1356.4 989.6L1359.1 987.8L1364.5 983.2L1367.2 981.5L1370.0 980.8L1375.4 980.7L1378.1 980.1L1380.4 978.9L1384.8 975.5L1387.6 974.2L1388.7 974.1L1399.2 974.2L1402.6 973.4L1405.1 970.9L1407.2 967.5L1409.0 964.1L1410.6 961.8L1411.1 962.2L1413.7 965.4L1415.2 966.0L1421.6 966.0L1423.4 965.4L1427.6 962.3L1429.7 961.1L1430.5 961.0L1431.5 961.1L1433.4 961.7L1436.9 963.3L1438.3 963.9L1442.4 963.9L1443.3 965.2L1445.3 969.1L1446.4 969.9L1452.8 969.9L1454.1 969.0L1456.5 965.8L1458.5 968.4L1460.1 971.3L1461.4 974.8L1462.3 978.8L1464.1 993.8L1465.4 1005.6L1466.1 1011.3L1467.3 1015.4L1469.3 1017.2L1475.1 1017.2L1476.3 1017.6L1477.8 1019.5L1478.8 1022.0L1479.6 1025.1L1480.4 1029.1L1481.2 1034.3L1483.1 1053.6L1485.8 1075.2L1487.9 1089.9L1489.7 1101.4L1490.4 1104.6L1491.2 1107.9L1492.5 1111.0L1495.5 1117.3L1496.8 1121.5L1497.6 1126.9L1499.4 1145.9L1501.5 1162.4L1504.1 1181.7L1506.7 1197.6L1507.8 1203.2L1508.9 1208.4L1511.5 1217.5L1512.9 1221.5L1514.3 1224.7L1516.0 1226.9L1517.7 1228.5L1519.4 1229.4L1521.1 1230.1L1522.9 1230.4L1530.9 1230.3L1532.6 1229.7L1534.2 1228.7L1535.7 1226.9L1537.1 1224.5L1540.8 1216.6L1542.9 1211.3L1543.8 1208.4L1544.4 1204.9L1545.5 1197.4L1546.5 1194.8L1547.9 1193.6L1551.6 1193.4L1553.2 1192.1L1554.4 1188.7L1556.1 1179.5L1557.4 1175.8L1559.2 1173.4L1561.4 1171.8L1563.6 1170.4L1565.5 1169.0L1566.8 1167.0L1567.5 1165.4L1568.4 1168.0L1569.5 1172.2L1571.4 1181.2L1572.2 1185.4L1573.3 1194.0L1574.1 1197.5L1575.2 1200.0L1576.4 1201.9L1577.8 1203.3L1579.5 1204.2L1581.7 1204.8L1590.5 1204.8L1595.4 1204.2L1597.3 1203.5L1597.8 1203.3L1598.2 1203.8L1599.1 1205.8L1599.9 1208.4L1600.7 1212.0L1602.0 1221.0L1602.6 1224.7L1603.9 1229.2L1604.6 1230.5L1605.3 1231.5L1606.2 1231.9L1613.5 1231.9L1614.6 1231.3L1615.8 1230.1L1617.0 1227.9L1619.7 1221.8L1621.2 1219.2L1622.8 1217.1L1624.5 1215.3L1628.0 1212.4L1629.7 1211.4L1631.5 1210.8L1633.2 1210.0L1634.8 1208.4L1636.0 1205.7L1637.0 1202.3L1638.0 1198.6L1639.7 1190.7L1641.3 1182.1L1642.1 1178.5L1643.7 1172.8L1644.6 1170.6L1645.3 1169.3L1647.4 1172.1L1648.8 1174.4L1650.2 1177.1L1656.9 1192.9L1658.2 1195.7L1659.6 1197.5L1661.3 1197.8L1667.6 1197.8L1669.3 1197.2L1672.8 1194.8L1674.4 1193.2L1677.8 1189.4L1679.6 1188.0L1681.5 1187.1L1682.2 1186.9L1683.1 1187.2L1684.8 1188.4L1686.5 1189.9L1688.1 1192.1L1689.9 1194.8L1691.6 1198.2L1693.3 1201.9L1696.4 1209.4L1697.8 1213.3L1700.4 1222.0L1701.8 1227.1L1705.8 1243.7L1708.9 1256.8L1709.9 1260.0L1711.2 1262.1L1712.5 1263.4L1713.9 1264.2L1715.3 1264.9L1717.0 1265.2L1721.3 1265.2L1722.1 1265.4L1723.7 1266.2L1725.2 1267.3L1726.7 1268.8L1728.1 1270.8L1729.7 1273.3L1739.5 1293.5L1743.9 1301.4L1745.2 1303.3L1746.5 1304.8L1747.9 1305.6L1749.3 1306.0L1757.0 1305.9L1758.4 1305.6L1759.7 1304.8L1761.1 1303.6L1763.8 1300.7L1765.0 1298.8L1767.6 1294.7L1769.2 1293.1L1771.0 1292.1L1775.3 1291.2L1777.4 1290.4L1779.2 1289.0L1780.9 1287.5L1782.6 1285.5L1784.2 1283.1L1785.6 1280.0L1787.0 1276.5L1788.3 1272.5L1789.6 1268.1L1790.7 1263.2L1793.7 1246.4L1797.7 1222.0L1800.2 1208.4L1803.2 1194.8L1804.8 1188.4L1808.2 1176.1L1811.7 1164.6L1815.1 1153.7L1820.1 1138.5L1821.8 1133.8L1823.5 1129.6L1825.1 1125.8L1826.8 1122.4L1828.5 1119.6L1830.2 1117.4L1831.9 1115.9L1833.6 1115.1L1834.6 1114.9L1836.2 1115.5L1837.5 1116.6L1838.4 1118.0L1838.9 1119.9L1843.0 1145.6L1845.5 1165.6L1846.8 1174.1L1847.4 1177.8L1848.0 1180.6L1848.7 1182.3L1849.3 1183.3L1849.9 1183.7L1856.2 1183.7L1856.9 1183.6L1857.6 1183.0L1858.4 1181.9L1859.2 1180.3L1860.1 1178.1L1860.8 1175.2L1862.2 1167.7L1863.9 1157.5L1869.5 1119.7L1871.7 1105.8L1875.6 1083.1L1879.3 1062.0L1881.8 1049.4L1884.3 1038.2L1886.7 1028.6L1887.9 1024.6L1890.6 1016.9L1892.2 1012.8L1902.4 991.4L1904.6 986.9L1906.9 983.1L1909.1 980.3L1911.3 978.0L1919.5 970.9L1921.7 969.3L1922.9 970.1L1924.5 971.6L1926.1 973.5L1929.2 978.1L1930.8 980.8L1933.8 986.7L1935.4 989.4L1937.3 991.6L1939.2 993.7L1941.1 995.5L1942.9 996.9L1944.6 997.9L1946.2 998.6L1947.7 998.8L1954.0 998.8L1955.6 998.6L1957.1 998.0L1958.7 996.8L1960.3 995.2L1961.8 993.1L1963.1 990.5L1966.8 980.6L1969.2 974.7L1970.5 971.9L1972.9 967.0L1974.0 964.9L1975.2 963.2L1976.8 961.9L1978.4 961.1L1990.3 961.4L1996.5 961.9L2001.8 962.6L2005.5 964.1L2011.2 967.9L2014.2 969.4L2017.9 969.9L2025.6 969.9L2029.2 970.6L2032.6 972.2L2035.8 974.4L2038.8 976.8L2041.6 979.4L2044.3 982.0L2051.7 990.6L2056.8 995.9L2059.3 998.7L2061.7 1001.9L2063.7 1005.6L2074.9 1031.4L2076.7 1034.4L2078.3 1035.7L2080.0 1036.0L2086.3 1036.0L2087.8 1035.4L2089.2 1034.4L2090.6 1032.5L2094.2 1024.4L2096.5 1020.1L2097.7 1018.3L2099.2 1016.9L2101.2 1016.1L2105.7 1015.8L2108.0 1015.1L2110.1 1013.7L2114.6 1009.7L2116.8 1008.1L2118.9 1007.0L2121.0 1006.1L2123.2 1005.5L2124.2 1005.4L2129.2 1006.1L2131.7 1006.8L2134.3 1007.7L2136.8 1008.3L2143.1 1008.3L2145.5 1008.1L2147.5 1007.0L2149.3 1005.0L2151.0 1002.8L2153.0 1000.6L2161.7 992.6L2161.7 986.4L2155.3 986.4L2146.7 994.4L2144.7 996.5L2143.0 998.7L2141.2 1000.7L2140.2 1001.2L2138.0 1000.5L2135.5 999.9L2130.4 999.0L2127.9 998.8L2119.2 998.9L2116.9 999.2L2114.7 999.9L2112.6 1000.7L2110.4 1001.9L2108.3 1003.4L2103.8 1007.4L2101.7 1008.9L2099.4 1009.5L2094.9 1009.8L2092.9 1010.6L2091.4 1012.0L2090.2 1013.8L2087.9 1018.1L2084.3 1026.2L2083.0 1028.0L2081.2 1025.1L2079.3 1021.0L2071.9 1003.4L2070.0 999.3L2068.0 995.6L2065.6 992.4L2063.1 989.6L2058.0 984.4L2050.6 975.7L2048.0 973.1L2045.1 970.5L2042.1 968.1L2038.9 965.9L2035.6 964.4L2031.9 963.6L2024.1 963.6L2020.6 963.1L2017.5 961.6L2011.8 957.8L2008.1 956.4L2002.8 955.6L1996.6 955.1L1980.1 954.6L1973.8 954.6L1972.1 954.8L1970.4 955.6L1968.9 956.9L1967.7 958.6L1964.2 965.6L1962.9 968.4L1960.4 974.4L1956.8 984.2L1955.4 986.9L1954.0 988.9L1952.4 990.5L1950.9 991.6L1949.2 990.6L1947.4 989.2L1945.5 987.4L1943.6 985.3L1941.8 983.1L1940.1 980.4L1937.1 974.5L1935.6 971.9L1932.4 967.2L1930.8 965.3L1929.2 963.9L1927.7 962.8L1926.2 962.2L1924.7 962.1L1918.4 962.1L1916.8 962.4L1915.0 963.2L1913.2 964.6L1905.0 971.7L1902.8 974.0L1900.5 976.9L1898.3 980.6L1896.1 985.1L1885.9 1006.5L1884.2 1010.6L1881.6 1018.3L1879.2 1026.8L1876.7 1037.3L1874.2 1049.2L1871.7 1062.5L1868.0 1084.2L1864.2 1106.8L1856.8 1156.8L1855.2 1165.5L1853.8 1171.7L1851.9 1159.2L1850.0 1144.4L1848.6 1134.0L1845.2 1113.6L1844.7 1111.7L1843.9 1110.2L1842.5 1109.2L1840.7 1108.6L1838.9 1108.3L1830.8 1108.3L1829.0 1108.5L1827.3 1108.8L1825.6 1109.6L1823.9 1111.0L1822.2 1113.3L1820.5 1116.1L1818.8 1119.5L1817.1 1123.2L1815.5 1127.5L1813.8 1132.2L1808.8 1147.4L1805.4 1158.3L1800.2 1175.9L1796.8 1188.4L1793.9 1202.1L1791.3 1215.6L1787.3 1240.0L1784.4 1256.9L1783.2 1261.8L1782.0 1266.2L1780.7 1270.2L1779.3 1273.7L1777.8 1276.8L1776.3 1279.2L1774.6 1281.2L1772.9 1282.7L1771.0 1284.0L1769.0 1284.9L1764.7 1285.8L1762.8 1286.8L1761.3 1288.4L1758.7 1292.5L1757.4 1294.3L1754.8 1297.3L1753.1 1298.6L1751.5 1297.0L1750.2 1295.1L1748.9 1292.8L1745.8 1287.2L1744.1 1283.8L1736.0 1267.0L1734.5 1264.4L1733.0 1262.5L1731.5 1261.0L1730.0 1259.9L1728.5 1259.0L1726.8 1258.7L1722.3 1258.7L1721.7 1258.5L1720.2 1257.9L1718.8 1257.1L1717.5 1255.8L1716.2 1253.6L1715.2 1250.5L1712.2 1237.3L1708.1 1220.8L1706.8 1215.6L1704.1 1207.0L1702.7 1203.1L1699.6 1195.6L1697.9 1191.9L1696.2 1188.5L1694.5 1185.8L1692.8 1183.6L1691.1 1182.1L1689.4 1180.9L1687.7 1180.2L1685.7 1180.0L1679.4 1180.0L1677.3 1180.2L1675.2 1180.8L1673.2 1181.6L1671.5 1183.1L1668.1 1186.9L1666.4 1188.4L1664.7 1189.7L1664.5 1189.4L1663.2 1186.6L1656.5 1170.8L1655.2 1168.0L1653.7 1165.8L1652.3 1163.8L1650.9 1162.2L1649.7 1161.2L1648.5 1160.8L1642.2 1160.8L1641.2 1160.9L1640.2 1161.5L1639.2 1162.6L1638.3 1164.3L1637.4 1166.5L1635.8 1172.1L1635.0 1175.8L1633.4 1184.4L1631.7 1192.3L1630.7 1196.0L1629.7 1199.4L1628.4 1202.0L1626.9 1203.7L1625.2 1204.5L1623.4 1205.1L1621.6 1206.0L1618.2 1209.0L1616.5 1210.8L1614.8 1212.8L1613.4 1215.5L1610.7 1221.6L1610.1 1222.6L1609.0 1218.3L1608.3 1214.7L1607.0 1205.7L1606.2 1202.0L1605.4 1199.5L1604.5 1197.5L1603.4 1196.1L1602.2 1195.2L1595.8 1195.2L1594.4 1195.3L1591.0 1197.2L1589.0 1197.9L1587.1 1198.3L1585.9 1197.9L1584.1 1197.0L1582.7 1195.6L1581.5 1193.7L1580.5 1191.1L1579.6 1187.7L1578.5 1179.1L1577.8 1174.8L1575.8 1165.8L1574.7 1161.7L1573.7 1158.5L1572.6 1156.7L1571.6 1155.8L1570.6 1155.5L1564.3 1155.5L1563.2 1155.8L1562.3 1156.9L1560.5 1160.7L1559.1 1162.6L1557.3 1164.1L1555.1 1165.5L1552.9 1167.1L1551.0 1169.4L1549.8 1173.2L1548.1 1182.4L1546.9 1185.8L1545.3 1187.1L1541.6 1187.3L1540.1 1188.4L1539.2 1191.1L1538.1 1198.6L1537.4 1202.0L1536.6 1205.0L1535.6 1207.7L1533.3 1212.8L1530.8 1218.2L1529.4 1220.6L1527.9 1222.3L1526.4 1223.4L1525.7 1223.1L1524.0 1222.2L1522.3 1220.6L1520.7 1218.3L1519.2 1215.2L1517.8 1211.2L1515.2 1202.0L1514.1 1196.9L1513.0 1191.3L1510.4 1175.4L1507.8 1156.1L1505.8 1139.5L1503.9 1120.6L1503.1 1115.1L1501.8 1111.0L1498.8 1104.7L1497.6 1101.5L1496.7 1098.3L1496.0 1095.1L1494.2 1083.6L1492.2 1068.9L1489.5 1047.2L1487.5 1028.0L1486.8 1022.8L1485.9 1018.8L1485.1 1015.7L1484.1 1013.2L1482.7 1011.4L1480.6 1010.6L1475.3 1010.6L1473.7 1009.1L1472.4 1005.0L1471.7 999.4L1471.1 993.1L1469.3 977.2L1468.6 972.5L1467.8 968.5L1466.4 965.0L1464.8 962.1L1463.2 959.8L1461.8 958.1L1460.7 957.2L1460.0 956.8L1453.7 956.8L1452.9 957.0L1451.9 957.6L1450.7 958.9L1450.0 959.8L1449.6 958.9L1448.7 957.6L1447.7 957.2L1443.7 957.2L1439.7 955.4L1437.9 954.9L1435.9 954.5L1433.8 954.4L1425.4 954.4L1423.3 954.9L1421.3 956.0L1418.9 957.8L1417.4 955.9L1416.2 954.9L1414.8 954.4L1413.6 954.1L1407.3 954.1L1405.9 954.4L1404.3 955.5L1402.7 957.8L1400.9 961.2L1398.8 964.6L1396.2 967.1L1393.4 967.8L1391.1 967.6L1384.8 967.6L1381.2 968.0L1378.5 969.2L1374.1 972.6L1371.8 973.9L1369.1 974.4L1363.7 974.5L1360.9 975.2L1358.2 976.9L1352.8 981.5L1350.0 983.4L1347.5 984.4L1339.1 986.1L1325.1 989.9L1320.1 991.6L1315.4 993.4L1305.9 997.7L1301.1 999.6L1291.6 1003.0L1282.1 1006.0L1272.5 1008.4L1250.6 1013.5L1248.6 1013.8L1245.0 1013.2L1234.6 1013.4L1228.9 1014.1L1193.5 1020.6L1180.2 1022.9L1174.4 1023.6L1163.8 1024.7L1158.5 1025.6L1153.1 1027.1L1147.5 1028.8L1122.2 1037.4L1117.8 1038.6L1113.9 1039.3L1107.0 1039.9L1104.2 1040.5L1102.0 1041.8L1099.1 1044.6L1093.3 1044.6L1091.7 1045.6L1087.8 1048.8L1085.2 1050.0L1082.4 1050.7L1075.7 1051.5L1071.6 1052.2L1061.6 1054.8L1056.0 1056.4L1043.5 1060.4L1001.9 1075.2L995.6 1077.2L985.8 1080.2L971.4 1084.0L960.7 1086.7L948.4 1089.5L934.5 1092.5L921.4 1095.6L886.9 1104.5L881.6 1105.8L875.9 1106.8L864.7 1108.4L855.9 1110.0L852.5 1110.6L849.5 1111.4L846.2 1112.5L842.8 1114.2L839.2 1116.2L835.8 1118.4L832.6 1120.6L830.0 1123.1L825.3 1128.4L823.1 1130.1L821.6 1130.7L817.1 1130.7L815.0 1130.9L812.8 1131.8L805.5 1135.6L795.2 1140.1L792.0 1141.8L789.0 1143.9L786.3 1146.1L773.9 1156.6L771.6 1158.1L769.1 1159.2L762.1 1160.8L760.2 1161.7L757.1 1163.5L755.2 1164.1L753.5 1164.5L752.0 1164.1L750.0 1162.9L746.2 1159.3L743.9 1158.1L740.9 1157.6L737.4 1157.5L731.1 1157.5L727.6 1157.8L724.1 1158.6L720.4 1160.3L716.7 1162.5L710.5 1166.8L709.0 1168.0L708.0 1169.5L706.4 1170.8L699.0 1175.4L694.4 1178.0L690.1 1180.2L686.1 1181.9L678.2 1184.4L673.8 1186.2L668.7 1188.8L652.1 1197.9L641.1 1203.5L630.2 1208.8L619.4 1213.9L614.0 1216.2L608.6 1218.3L603.0 1220.3L597.4 1222.2L586.9 1225.1L582.4 1226.1L574.5 1227.3L570.6 1228.0L562.4 1230.4L550.1 1234.8L541.8 1238.1L538.0 1240.0L534.4 1242.3L527.7 1247.3L524.4 1249.5L520.9 1251.4L517.4 1253.1L514.0 1254.6L510.8 1255.8L507.9 1256.6L505.4 1257.2L502.8 1257.5L501.0 1257.6L496.1 1257.1L492.6 1256.3L489.2 1255.1L485.8 1253.5L479.0 1249.5L472.2 1245.2L468.8 1242.8L465.4 1240.0L462.0 1237.0L458.5 1233.7L455.1 1230.1L451.9 1226.4L449.0 1222.6L446.3 1218.6L438.3 1205.6L432.8 1196.0L425.0 1181.2L420.6 1172.1L419.2 1168.4L417.2 1162.1L415.9 1159.5L414.2 1157.6L410.3 1154.8L408.5 1152.8L407.2 1150.1L403.8 1140.5L398.3 1129.8L395.5 1123.1L392.9 1116.1L392.0 1112.8L387.9 1095.8L386.1 1088.9L382.0 1075.3L379.3 1061.8L375.2 1048.2L372.6 1038.0L371.2 1031.2L369.5 1021.1L368.1 1014.2L365.6 1004.0L359.6 980.4L357.1 969.8L356.2 966.8L355.3 964.2L354.2 961.9L353.2 960.0L352.1 958.6L351.2 957.6L350.3 957.1L348.0 956.6L346.4 956.4L340.5 956.2L334.8 955.1L332.4 954.9L326.4 954.4L316.8 954.4L313.9 954.9L311.3 955.9L306.8 959.0L304.4 960.4L299.4 962.5L296.7 963.2L287.6 961.3L283.5 960.9L277.2 960.9L273.6 961.3L266.8 963.1L265.7 963.2L264.2 963.0L259.1 961.6L256.6 960.7L251.9 958.4L249.6 957.6L244.7 956.4L242.3 956.2L233.8 956.2L231.8 956.9L228.0 959.2L227.4 959.3L218.3 957.6L212.7 956.9L207.5 956.6L198.6 956.6L196.1 956.7L190.3 957.1L179.7 958.0L177.4 957.6L174.8 956.6L171.3 954.9L165.0 954.9L165.0 961.1L168.5 962.9L171.1 963.9L174.0 964.4Z" fill="#f00" fill-rule="evenodd" shape-rendering="crispEdges"/>
<g stroke="#000" stroke-width="6.9" stroke-linecap="butt" shape-rendering="crispEdges">
<line x1="432.8" y1="699.6" x2="409.2" y2="778.4"/>
<line x1="785.9" y1="718.6" x2="854.6" y2="783.8"/>
<line x1="1509.2" y1="598.3" x2="1390.3" y2="751.4"/>
<line x1="1884.5" y1="629.5" x2="1957.3" y2="692.8"/>
<line x1="1591.2" y1="1009.4" x2="1605.4" y2="1061.8"/>
<line x1="1736.3" y1="980.0" x2="1766.8" y2="1050.0"/>
<line x1="2072.8" y1="1070.4" x2="2059.8" y2="1119.4"/>
<line x1="527.0" y1="1294.3" x2="566.9" y2="1345.9"/>
<line x1="1499.9" y1="1254.1" x2="1437.4" y2="1315.2"/>
<line x1="1731.7" y1="1337.3" x2="1714.2" y2="1374.8"/>
<line x1="1874.4" y1="1204.9" x2="1909.9" y2="1252.4"/>
</g>
<text transform="translate(334.02 826.51) scale(0.9947 1)" font-size="49.72">3508.5</text>
<text transform="translate(764.38 831.01) scale(0.9910 1)" font-size="50.56">2961.75</text>
<text transform="translate(1300.27 799.72) scale(1.0074 1)" font-size="49.43">1601.25</text>
<text transform="translate(1901.45 740.01) scale(1.0030 1)" font-size="49.86">1036</text>
<text transform="translate(1549.25 1109.81) scale(1.0035 1)" font-size="49.86">1510</text>
<text transform="translate(1711.33 1097.82) scale(1.0143 1)" font-size="49.43">1269</text>
<text transform="translate(1989.36 1200.95) scale(1.0003 1)" font-size="46.04">632.75</text>
<text transform="translate(477.91 1392.62) scale(1.0021 1)" font-size="49.58">3405.25</text>
<text transform="translate(1324.34 1362.42) scale(1.0126 1)" font-size="49.43">1603</text>
<text transform="translate(1531.46 1408.81) scale(0.9976 1)" font-size="50.00">1213.59</text>
<text transform="translate(1820.30 1342.52) scale(1.0027 1)" font-size="49.43">1036.41</text>
<text transform="translate(189.17 137.56) scale(1.0233 1)" font-size="55.14">Polyeugenol</text>
<text transform="translate(188.22 916.63) scale(1.0273 1)" font-size="55.25">Sulfonated Polyeugenol</text>
<text transform="translate(90.07 1525.3) scale(0.9773 1)" font-size="68.70">4000</text>
<text transform="translate(374.75 1525.3) scale(0.9773 1)" font-size="68.70">3500</text>
<text transform="translate(659.43 1525.3) scale(0.9773 1)" font-size="68.70">3000</text>
<text transform="translate(944.10 1525.3) scale(0.9773 1)" font-size="68.70">2500</text>
<text transform="translate(1228.78 1525.3) scale(0.9773 1)" font-size="68.70">2000</text>
<text transform="translate(1513.46 1525.3) scale(0.9773 1)" font-size="68.70">1500</text>
<text transform="translate(1798.14 1525.3) scale(0.9773 1)" font-size="68.70">1000</text>
<text transform="translate(2101.49 1525.3) scale(0.9773 1)" font-size="68.70">500</text>
<text transform="translate(118 1051.60) rotate(-90) scale(0.9986 1)" font-size="75.7">%Transmittance</text>
<text transform="translate(830.77 1635.8) scale(0.9965 1)" font-size="75.7">Wavenumber (cm<tspan font-size="45.4" dy="-41.8">-1</tspan><tspan dy="41.8" dx="3">)</tspan></text>
</svg></body></html>
